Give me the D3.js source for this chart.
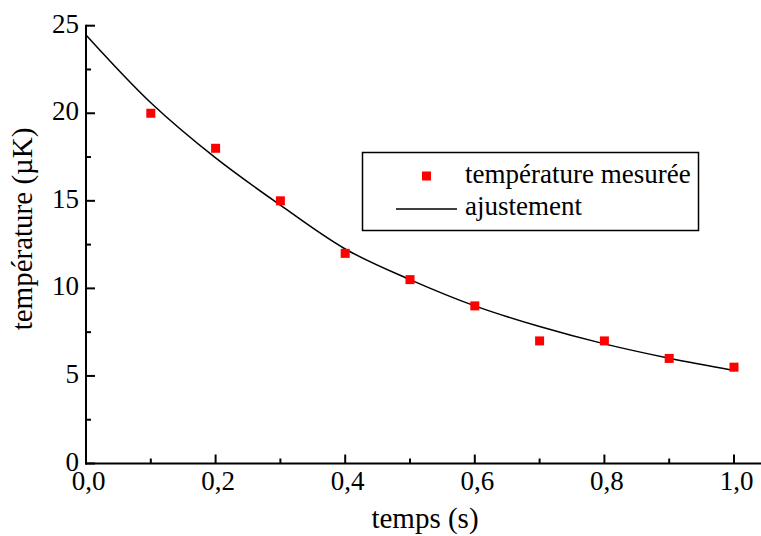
<!DOCTYPE html>
<html>
<head>
<meta charset="utf-8">
<script src="https://cdn.jsdelivr.net/npm/d3@7"></script>
<style>
  html, body { margin: 0; padding: 0; background: #fff; }
  svg { display: block; }
  svg text { font-family: "Liberation Serif", "Times New Roman", "DejaVu Serif", serif; }
</style>
</head>
<body>
<svg id="chart" width="761" height="536"></svg>
<script>
// Measured data
const measuredT = [0.1, 0.2, 0.3, 0.4, 0.5, 0.6, 0.7, 0.8, 0.9, 1.0];
const measuredTemp = [20, 18, 15, 12, 10.5, 9, 7, 7, 6, 5.5];
// Fit curve
const fitT = [0, 0.1, 0.2, 0.3, 0.4, 0.5, 0.6, 0.7, 0.8, 0.9, 1.0];
const fitTemp = [24.47, 20.6, 17.45, 14.75, 12.25, 10.5, 9.0, 7.82, 6.83, 6.01, 5.31];
// Ticks
const xTicks = [0, 0.2, 0.4, 0.6, 0.8, 1.0];
const xTickLabels = ["0,0", "0,2", "0,4", "0,6", "0,8", "1,0"];
const xMinorTicks = [0.1, 0.3, 0.5, 0.7, 0.9];
const yTicks = [0, 5, 10, 15, 20, 25];
const yMinorTicks = [2.5, 7.5, 12.5, 17.5, 22.5];
const legendLabels = ["température mesurée", "ajustement"];

const svg = d3.select("#chart");
const x0 = 86, x1 = 734, y0 = 463.5, y25 = 25.7;
const x = d3.scaleLinear().domain([0, 1]).range([x0, x1]);
const y = d3.scaleLinear().domain([0, 25]).range([y0, y25]);

// axes lines
svg.append("line").attr("x1", x0).attr("x2", x0).attr("y1", y25 - 1).attr("y2", y0 + 1)
  .attr("stroke", "#000").attr("stroke-width", 2);
svg.append("line").attr("x1", x0 - 1).attr("x2", 761).attr("y1", y0).attr("y2", y0)
  .attr("stroke", "#000").attr("stroke-width", 2);

// x ticks (inward)
svg.selectAll(".xt").data(xTicks).join("line")
  .attr("x1", d => x(d)).attr("x2", d => x(d))
  .attr("y1", y0).attr("y2", y0 - 9).attr("stroke", "#000").attr("stroke-width", 2);
svg.selectAll(".xmt").data(xMinorTicks).join("line")
  .attr("x1", d => x(d)).attr("x2", d => x(d))
  .attr("y1", y0).attr("y2", y0 - 5).attr("stroke", "#000").attr("stroke-width", 2);
svg.selectAll(".xl").data(xTicks).join("text")
  .attr("x", d => x(d) + 2.5).attr("y", 490)
  .attr("text-anchor", "middle").attr("font-size", 27).attr("fill", "#000")
  .text((d, i) => xTickLabels[i]);

// y ticks (inward)
svg.selectAll(".yt").data(yTicks).join("line")
  .attr("x1", x0).attr("x2", x0 + 9)
  .attr("y1", d => y(d)).attr("y2", d => y(d)).attr("stroke", "#000").attr("stroke-width", 2);
svg.selectAll(".ymt").data(yMinorTicks).join("line")
  .attr("x1", x0).attr("x2", x0 + 5)
  .attr("y1", d => y(d)).attr("y2", d => y(d)).attr("stroke", "#000").attr("stroke-width", 2);
svg.selectAll(".yl").data(yTicks).join("text")
  .attr("x", 79).attr("y", d => y(d) + 7)
  .attr("text-anchor", "end").attr("font-size", 27).attr("fill", "#000")
  .text(d => d);

// axis titles
svg.append("text").attr("x", 425).attr("y", 528).attr("text-anchor", "middle")
  .attr("font-size", 29).attr("fill", "#000").text("temps (s)");
svg.append("text").attr("transform", "translate(32,229) rotate(-90)")
  .attr("text-anchor", "middle").attr("font-size", 29).attr("fill", "#000")
  .text("température (µK)");

// fit curve
const line = d3.line().x(d => x(d[0])).y(d => y(d[1])).curve(d3.curveCatmullRom);
svg.append("path").datum(fitT.map((t, i) => [t, fitTemp[i]]))
  .attr("d", line).attr("fill", "none").attr("stroke", "#000").attr("stroke-width", 1.5);

// measured points
svg.selectAll(".pt").data(measuredT.map((t, i) => [t, measuredTemp[i]])).join("rect")
  .attr("x", d => x(d[0]) - 4.5).attr("y", d => y(d[1]) - 4.5)
  .attr("width", 9).attr("height", 9).attr("fill", "#ff0000");

// legend
const lg = svg.append("g");
lg.append("rect").attr("x", 362.5).attr("y", 152.5).attr("width", 336).attr("height", 78)
  .attr("fill", "#fff").attr("stroke", "#000").attr("stroke-width", 1.5);
lg.append("rect").attr("x", 422).attr("y", 171.5).attr("width", 9).attr("height", 9).attr("fill", "#ff0000");
lg.append("text").attr("x", 465).attr("y", 183).attr("font-size", 27).attr("fill", "#000").text(legendLabels[0]);
lg.append("line").attr("x1", 396).attr("x2", 457).attr("y1", 209).attr("y2", 209)
  .attr("stroke", "#000").attr("stroke-width", 1.5);
lg.append("text").attr("x", 465).attr("y", 215).attr("font-size", 27).attr("fill", "#000").text(legendLabels[1]);
</script>
</body>
</html>
